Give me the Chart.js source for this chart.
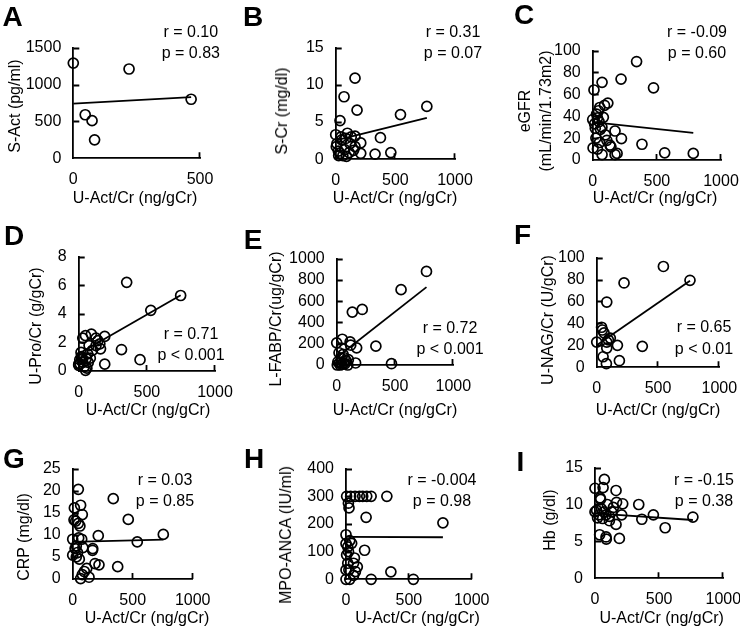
<!DOCTYPE html>
<html lang="en">
<head>
    <meta charset="UTF-8">
    <title>U-Act/Cr correlations</title>
    <script src="https://cdn.jsdelivr.net/npm/chart.js"></script>
    <style>
        body {
            margin: 0;
            background: #ffffff;
        }

        #wrap {
            position: relative;
            width: 740px;
            height: 636px;
            overflow: hidden;
            background: #ffffff;
            font-family: "Liberation Sans", Arial, sans-serif;
            color: #000;
        }

        #wrap canvas {
            position: absolute;
        }

        .txt {
            position: absolute;
            font-size: 16px;
            white-space: nowrap;
            transform: translate(-50%, -50%);
        }

        .rot {
            transform: translate(-50%, -50%) rotate(-90deg);
        }

        .letter {
            font-size: 28px;
            font-weight: bold;
        }
    </style>
</head>
<body>
    <div id="wrap"></div>

    <script>
        // x = U-Act/Cr (ng/gCr) in every panel
        const aX = [0, 220, 465, 47, 74, 84];
        const aY = [1290, 1210, 800, 590, 510, 250];
        const aFitX = [0, 465];
        const aFitY = [740, 830];

        const bX = [162, 70, 179, 36, 764, 543, 375, 462, 330, 210, 210, 162, 98, 0, 50, 120, 162, 5, 22, 36, 113, 76, 10, 60, 130, 45, 85, 25, 150, 90];
        const bY = [10.9, 8.4, 6.6, 5.2, 7.1, 6.0, 2.9, 0.9, 0.7, 0.8, 2.2, 3.1, 3.5, 3.3, 2.6, 2.1, 1.7, 1.7, 1.1, 0.8, 0.9, 1.3, 2.1, 0.5, 3.0, 3.0, 2.8, 0.5, 1.2, 0.4];
        const bFitX = [0, 764];
        const bFitY = [2.55, 5.55];

        const cX = [342, 221, 73, 474, 10, 118, 92, 55, 0, 37, 83, 20, 99, 174, 224, 384, 134, 53, 3, 37, 73, 174, 190, 561, 784, 142, 72, 30, 50, 15, 60, 45, 25, 110];
        const cY = [90, 74, 71, 66, 64, 52, 50, 48, 37, 38.5, 39, 29, 23, 26.5, 19.6, 14.4, 13.6, 16, 11, 10, 5, 5, 6, 6.6, 6, 12, 30, 42, 35, 33, 28, 45, 20, 18];
        const cFitX = [0, 784];
        const cFitY = [34.6, 24.7];

        const dX = [352, 748, 529, 314, 450, 191, 191, 93, 50, 30, 141, 76, 160, 17, 127, 66, 28, 0, 50, 70, 8, 100, 127, 155, 30, 0, 55, 40, 60, 20, 10, 85];
        const dY = [6.2, 5.28, 4.24, 1.5, 0.79, 0.48, 2.42, 2.58, 2.47, 2.3, 2.12, 1.78, 1.55, 1.3, 1.78, 1.2, 0.87, 0.48, 0.05, 0.6, 0.8, 1.44, 2.3, 1.9, 0.6, 0.4, 0.87, 0.3, 0.2, 1.0, 0.5, 0.9];
        const dFitX = [0, 748];
        const dFitY = [1.2, 5.3];

        const eX = [770, 552, 219, 134, 336, 470, 162, 171, 115, 48, 0, 120, 20, 40, 25, 80, 95, 5, 45, 65, 100, 40, 60, 30, 70, 10, 55];
        const eY = [879, 708, 522, 497, 177, 12, 19, 161, 217, 242, 208, 186, 115, 62, 20, 40, 0, 0, 5, 68, 50, 160, 20, 0, 10, 30, 100];
        const eFitX = [0, 770];
        const eFitY = [71, 732];

        const fX = [544, 761, 223, 82, 372, 185, 79, 52, 169, 111, 82, 60, 40, 0, 82, 46, 95];
        const fY = [91.9, 79.3, 76.9, 59.5, 19.1, 6, 3.3, 9.6, 20, 26.6, 22.9, 31.4, 36.5, 23, 17.5, 34, 25];
        const fFitX = [0, 761];
        const fFitY = [20.2, 79];

        const gX = [47, 338, 463, 14, 66, 80, 25, 47, 11, 213, 538, 0, 50, 75, 20, 85, 167, 165, 0, 30, 55, 186, 219, 375, 117, 97, 80, 66, 136, 755, 30, 60, 40];
        const gY = [20.3, 18.2, 13.5, 16.1, 16.7, 14.6, 13.1, 12.6, 13.4, 9.8, 8.4, 9.0, 9.3, 9.0, 6.9, 7.1, 6.9, 6.5, 5.4, 5.0, 4.5, 3.5, 3.2, 2.8, 2.4, 1.7, 1.0, 0.1, 0.4, 10.1, 7.5, 12.0, 6.0];
        const gFitX = [0, 755];
        const gFitY = [8.4, 8.9];

        const hX = [5, 37, 72, 107, 133, 165, 200, 325, 19, 24, 160, 771, 0, 0, 30, 14, 148, 5, 67, 14, 60, 0, 75, 357, 0, 30, 200, 536, 23, 60, 45, 90, 20];
        const hY = [300, 300, 300, 300, 300, 300, 300, 300, 275, 258, 224, 204, 161, 129, 140, 117, 105, 88, 77, 58, 58, 34, 28, 27, 0, 0, 0, 0, 34, 14, 130, 45, 100];
        const hFitX = [0, 771];
        const hFitY = [153, 152];

        const iX = [73, 0, 63, 164, 40, 44, 96, 168, 216, 341, 143, 455, 208, 763, 365, 547, 164, 112, 0, 30, 60, 86, 112, 36, 86, 88, 190, 13, 20, 50, 70, 130];
        const iY = [13.4, 12.2, 12.3, 11.9, 10.9, 10.7, 10, 10.3, 10.1, 10.0, 9.6, 8.6, 8.6, 8.3, 8.0, 6.85, 7.3, 7.8, 9.0, 8.6, 8.1, 8.6, 8.4, 5.9, 5.6, 5.3, 5.4, 9.2, 8.2, 9.4, 9.0, 9.0];
        const iFitX = [0, 763];
        const iFitY = [8.8, 7.9];

        // axis ranges: [max, step]
        const xRange = [1000, 500];
        const xRangeA = [500, 500];
        const yRanges = {
            A: [1500, 500], B: [15, 5], C: [100, 20],
            D: [8, 2], E: [1000, 200], F: [100, 20],
            G: [25, 5], H: [400, 100], I: [15, 5]
        };

        const xTitle = 'U-Act/Cr (ng/gCr)';
        const yTitles = {
            A: ['S-Act (pg/ml)'], B: ['S-Cr (mg/dl)'], C: ['eGFR', '(mL/min/1.73m2)'],
            D: ['U-Pro/Cr (g/gCr)'], E: ['L-FABP/Cr(ug/gCr)'], F: ['U-NAG/Cr (U/gCr)'],
            G: ['CRP (mg/dl)'], H: ['MPO-ANCA (IU/ml)'], I: ['Hb (g/dl)']
        };
        const stats = {
            A: ['r = 0.10', 'p = 0.83'], B: ['r = 0.31', 'p = 0.07'], C: ['r = -0.09', 'p = 0.60'],
            D: ['r = 0.71', 'p < 0.001'], E: ['r = 0.72', 'p < 0.001'], F: ['r = 0.65', 'p < 0.01'],
            G: ['r = 0.03', 'p = 0.85'], H: ['r = -0.004', 'p = 0.98'], I: ['r = -0.15', 'p = 0.38']
        };

        function pts(xs, ys) {
            return xs.map((x, i) => ({ x: x, y: ys[i] }));
        }

        // plot box (axis lines) in page pixels: x0, x1, y0, y1
        const panels = [
            { id: 'A', x: aX, y: aY, fx: aFitX, fy: aFitY, xr: xRangeA, box: [73.3, 200, 46.7, 158.3],
              letter: [12.5, 17], yt: [[14.5, 106]], xt: [135, 198], st: [190.8, 32.3, 53.3] },
            { id: 'B', x: bX, y: bY, fx: bFitX, fy: bFitY, xr: xRange, box: [335.7, 455, 46, 159.3],
              letter: [253, 17], yt: [[282, 111]], xt: [395, 198], st: [453, 31.7, 53.3] },
            { id: 'C', x: cX, y: cY, fx: cFitX, fy: cFitY, xr: xRange, box: [592.7, 721, 49.3, 160],
              letter: [524, 15], yt: [[524.7, 111], [546, 111]], xt: [655, 198], st: [697, 31.7, 53.3] },
            { id: 'D', x: dX, y: dY, fx: dFitX, fy: dFitY, xr: xRange, box: [78.7, 215, 255, 371],
              letter: [14, 235.5], yt: [[36.3, 326]], xt: [148, 410], st: [191, 334, 355] },
            { id: 'E', x: eX, y: eY, fx: eFitX, fy: eFitY, xr: xRange, box: [336.7, 453.3, 257.7, 365],
              letter: [253, 240], yt: [[275.8, 319]], xt: [395, 410], st: [450, 328.3, 349] },
            { id: 'F', x: fX, y: fY, fx: fFitX, fy: fFitY, xr: xRange, box: [596.7, 719.3, 256, 367.3],
              letter: [522.5, 235], yt: [[547.5, 319.5]], xt: [658, 410], st: [704, 326.7, 349] },
            { id: 'G', x: gX, y: gY, fx: gFitX, fy: gFitY, xr: xRange, box: [72.7, 192.7, 467.5, 579],
              letter: [14, 459], yt: [[24, 537]], xt: [147, 618], st: [165, 480, 501] },
            { id: 'H', x: hX, y: hY, fx: hFitX, fy: hFitY, xr: xRange, box: [346, 471.7, 467.7, 579.3],
              letter: [254, 459], yt: [[285.8, 535]], xt: [417.5, 618], st: [442, 480, 501] },
            { id: 'I', x: iX, y: iY, fx: iFitX, fy: iFitY, xr: xRange, box: [595, 723.3, 466, 578.3],
              letter: [520.5, 461.5], yt: [[550, 519.5]], xt: [661.7, 618], st: [704, 480, 501] }
        ];

        const FONT = '"Liberation Sans", Arial, sans-serif';
        const wrap = document.getElementById('wrap');

        function addText(text, x, y, cls) {
            const d = document.createElement('div');
            d.className = 'txt ' + (cls || '');
            d.style.left = x + 'px';
            d.style.top = y + 'px';
            d.textContent = text;
            wrap.appendChild(d);
        }

        // small tick marks pointing into the plot, like the original figure
        const innerTicks = {
            id: 'innerTicks',
            afterDraw(chart) {
                const ctx = chart.ctx;
                const xs = chart.scales.x, ys = chart.scales.y;
                const area = chart.chartArea;
                ctx.save();
                ctx.strokeStyle = '#000';
                ctx.lineWidth = 1.8;
                ctx.beginPath();
                xs.ticks.forEach(t => {
                    if (t.value === 0) return;
                    const px = Math.round(xs.getPixelForValue(t.value)) - 0.5;
                    ctx.moveTo(px, area.bottom);
                    ctx.lineTo(px, area.bottom - 6);
                });
                ys.ticks.forEach(t => {
                    if (t.value === 0) return;
                    const py = Math.round(ys.getPixelForValue(t.value)) + 0.5;
                    ctx.moveTo(area.left, py);
                    ctx.lineTo(area.left + 6, py);
                });
                ctx.stroke();
                ctx.restore();
            }
        };

        panels.forEach(p => {
            const [x0, x1, y0, y1] = p.box;
            const cl = Math.floor(x0 - 70), ct = Math.floor(y0 - 20);
            const cw = Math.ceil(x1 - cl + 30), ch = Math.ceil(y1 - ct + 40);
            const cv = document.createElement('canvas');
            cv.width = cw;
            cv.height = ch;
            cv.style.left = cl + 'px';
            cv.style.top = ct + 'px';
            cv.style.width = cw + 'px';
            cv.style.height = ch + 'px';
            wrap.appendChild(cv);

            const yr = yRanges[p.id];
            const tickFont = { family: FONT, size: 16 };
            const plain = v => String(v);

            new Chart(cv, {
                type: 'scatter',
                data: {
                    datasets: [{
                        data: pts(p.fx, p.fy),
                        showLine: true,
                        borderColor: '#000',
                        borderWidth: 1.8,
                        pointRadius: 0,
                        tension: 0,
                        clip: false
                    }, {
                        data: pts(p.x, p.y),
                        pointRadius: 5,
                        borderWidth: 1.7,
                        borderColor: '#000',
                        backgroundColor: 'rgba(0,0,0,0)',
                        clip: false
                    }]
                },
                options: {
                    responsive: false,
                    animation: false,
                    devicePixelRatio: 1,
                    layout: { padding: { left: 0, top: y0 - ct, right: cl + cw - x1, bottom: 0 } },
                    plugins: { legend: { display: false }, tooltip: { enabled: false } },
                    scales: {
                        x: {
                            type: 'linear', position: 'bottom', min: 0, max: p.xr[0],
                            ticks: { stepSize: p.xr[1], autoSkip: false, maxRotation: 0, padding: 12, color: '#000', font: tickFont, callback: plain },
                            grid: { display: false, drawTicks: false },
                            border: { display: true, color: '#000', width: 1.8 },
                            afterFit: s => { s.height = ct + ch - y1; }
                        },
                        y: {
                            type: 'linear', position: 'left', min: 0, max: yr[0],
                            ticks: { stepSize: yr[1], autoSkip: false, padding: 12, color: '#000', font: tickFont, callback: plain },
                            grid: { display: false, drawTicks: false },
                            border: { display: true, color: '#000', width: 1.8 },
                            afterFit: s => { s.width = x0 - cl; }
                        }
                    }
                },
                plugins: [innerTicks]
            });

            addText(p.id, p.letter[0], p.letter[1], 'letter');
            yTitles[p.id].forEach((t, i) => addText(t, p.yt[i][0], p.yt[i][1], 'rot'));
            addText(xTitle, p.xt[0], p.xt[1]);
            addText(stats[p.id][0], p.st[0], p.st[1]);
            addText(stats[p.id][1], p.st[0], p.st[2]);
        });
    </script>
</body>
</html>
